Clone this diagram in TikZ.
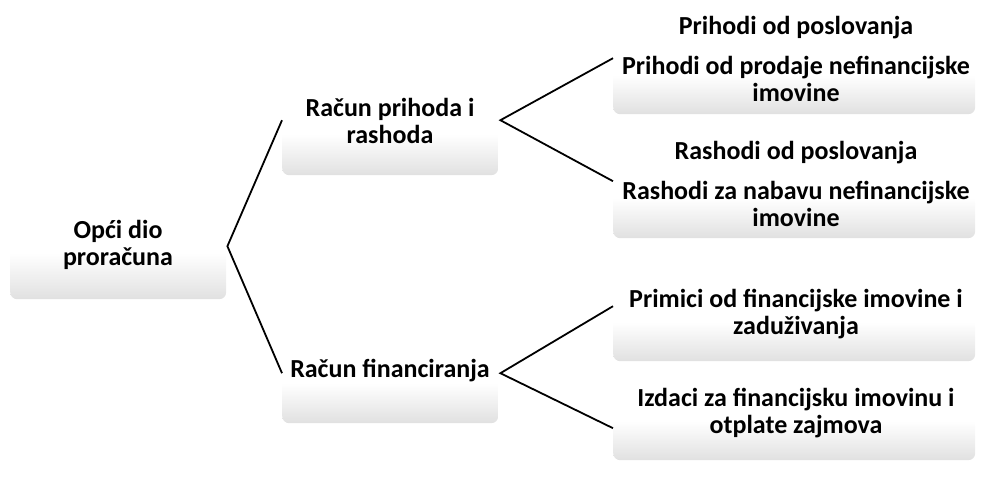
\documentclass[tikz,border=0pt]{standalone}
\usepackage{fontspec}
\setmainfont{Carlito}
\tikzset{
  box/.style={rectangle, rounded corners=7pt, top color=white,
    bottom color=black!12, middle color=white, inner sep=0pt, anchor=north west},
  lbl/.style={font=\bfseries\fontsize{26}{27.5}\selectfont, align=center, inner sep=0pt},
  conn/.style={line width=1.8pt}
}
\begin{document}
\begin{tikzpicture}[x=1pt,y=-1pt]
\useasboundingbox (0,0) rectangle (985,479);

% boxes
\node [box, minimum width=216, minimum height=92] (root) at (10,207) {};
\node [box, minimum width=216, minimum height=82] (rph) at (282,93) {};
\node [box, minimum width=216, minimum height=80] (rfin) at (282,343) {};
\node [box, minimum width=362, minimum height=78] (prih) at (613,36) {};
\node [box, minimum width=362, minimum height=80] (rash) at (613,158) {};
\node [box, minimum width=362, minimum height=78] (prim) at (613,283) {};
\node [box, minimum width=362, minimum height=78] (izd) at (613,382) {};

% texts
\node [lbl] (rootT) at (118,245) {Opći dio\\proračuna};
\node [lbl] (rphT) at (390,121) {Račun prihoda i\\rashoda};
\node [lbl] (rfinT) at (390,371) {Račun financiranja};
\node [lbl] (prihH) at (796,28) {Prihodi od poslovanja};
\node [lbl] (prihT) at (796,79) {Prihodi od prodaje nefinancijske\\imovine};
\node [lbl] (rashH) at (796,153) {Rashodi od poslovanja};
\node [lbl] (rashT) at (796,204) {Rashodi za nabavu nefinancijske\\imovine};
\node [lbl] (primT) at (796,314) {Primici od financijske imovine i\\zaduživanja};
\node [lbl] (izdT) at (796,413) {Izdaci za financijsku imovinu i\\otplate zajmova};

% connectors
\draw [conn] ([yshift=14pt]rph.west) -- ([xshift=1pt,yshift=7pt]root.east) -- ([yshift=10pt]rfin.west);
\draw [conn] ([yshift=17pt]prih.west) -- ([xshift=2pt,yshift=14pt]rph.east) -- ([yshift=17pt]rash.west);
\draw [conn] ([yshift=16pt]prim.west) -- ([xshift=2pt,yshift=10pt]rfin.east) -- ([yshift=-7pt]izd.west);
\end{tikzpicture}
\end{document}
